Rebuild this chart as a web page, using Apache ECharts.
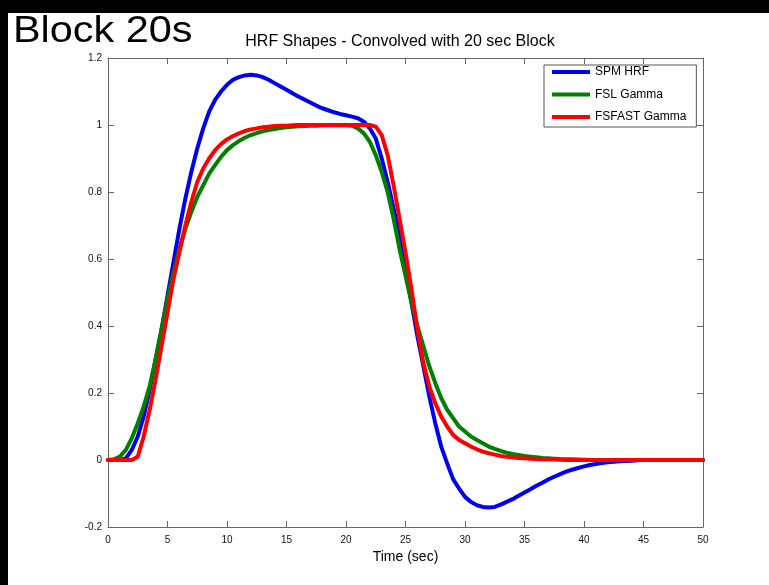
<!DOCTYPE html>
<html>
<head>
<meta charset="utf-8">
<script src="https://cdn.jsdelivr.net/npm/echarts@6/dist/echarts.min.js"></script>
<style>
html,body{margin:0;padding:0;background:#000;width:769px;height:585px;overflow:hidden;}
#chart{position:absolute;left:8px;top:13px;width:761px;height:572px;background:#fff;}
</style>
</head>
<body>
<div id="chart"></div>
<script>
const timeSec = [];
for (let i = 0; i <= 100; i++) timeSec.push(i / 2);

const spmHrf = [0,0,0,0.005,0.03,0.07,0.13,0.21,0.30,0.39,
0.49,0.59,0.69,0.78,0.86,0.93,0.99,1.04,1.075,1.10,
1.12,1.135,1.143,1.148,1.15,1.148,1.143,1.135,1.125,1.115,
1.105,1.095,1.085,1.076,1.067,1.058,1.05,1.044,1.038,1.033,
1.029,1.025,1.02,1.01,0.99,0.96,0.90,0.83,0.75,0.67,
0.57,0.47,0.37,0.28,0.19,0.11,0.04,-0.01,-0.057,-0.085,
-0.11,-0.125,-0.135,-0.14,-0.142,-0.14,-0.133,-0.125,-0.117,-0.107,
-0.097,-0.087,-0.077,-0.068,-0.058,-0.05,-0.042,-0.035,-0.029,-0.024,
-0.019,-0.015,-0.012,-0.009,-0.007,-0.005,-0.004,-0.003,-0.002,-0.001,
0,0,0,0,0,0,0,0,0,0,0];

const fslGamma = [0,0.002,0.01,0.03,0.065,0.11,0.16,0.22,0.30,0.39,
0.48,0.56,0.63,0.69,0.74,0.785,0.82,0.855,0.88,0.905,
0.925,0.94,0.952,0.962,0.97,0.976,0.981,0.985,0.988,0.991,
0.993,0.995,0.996,0.997,0.998,0.998,0.999,0.999,0.999,0.999,
0.999,0.998,0.99,0.975,0.95,0.91,0.86,0.80,0.72,0.63,
0.55,0.47,0.40,0.34,0.28,0.23,0.185,0.15,0.125,0.10,
0.085,0.07,0.06,0.05,0.04,0.033,0.027,0.022,0.018,0.015,
0.012,0.01,0.008,0.006,0.005,0.004,0.003,0.0025,0.002,0.0015,
0.001,0,0,0,0,0,0,0,0,0,
0,0,0,0,0,0,0,0,0,0,0];

const fsfastGamma = [0,0,0,0,0,0.01,0.07,0.15,0.24,0.34,
0.44,0.54,0.62,0.70,0.77,0.83,0.87,0.90,0.925,0.943,
0.957,0.967,0.975,0.982,0.987,0.99,0.993,0.995,0.997,0.998,
0.998,0.999,1,1,1,1,1,1,1,1,
1,1,1,1,1,0.995,0.97,0.91,0.82,0.72,
0.62,0.51,0.39,0.29,0.22,0.17,0.13,0.10,0.075,0.06,
0.05,0.04,0.032,0.025,0.02,0.016,0.012,0.01,0.008,0.006,
0.005,0.004,0.003,0.0025,0.002,0.0015,0.001,0,0,0,
0,0,0,0,0,0,0,0,0,0,
0,0,0,0,0,0,0,0,0,0,0];

const seriesNames = ['SPM HRF', 'FSL Gamma', 'FSFAST Gamma'];
const seriesColors = ['#0000f0', '#007f00', '#ff0000'];
const seriesValues = [spmHrf, fslGamma, fsfastGamma];

const mainTitle = 'Block 20s';
const chartTitle = 'HRF Shapes - Convolved with 20 sec Block';
const xAxisName = 'Time (sec)';

const FONT = 'Liberation Sans, Arial, Helvetica, sans-serif';
const axisColor = '#666';

const chart = echarts.init(document.getElementById('chart'));

function fmt(v) { return String(Math.round(v * 10) / 10); }

function axisBase() {
  return {
    type: 'value',
    axisLine: { show: true, onZero: false, lineStyle: { color: axisColor, width: 1 } },
    axisTick: { show: true, inside: true, length: 6, lineStyle: { color: axisColor } },
    splitLine: { show: false },
  };
}

chart.setOption({
  backgroundColor: '#fff',
  animation: false,
  grid: { left: 100, right: 66, top: 45, bottom: 58, containLabel: false },
  legend: {
    orient: 'vertical',
    left: 536, top: 52,
    data: seriesNames,
    icon: 'rect',
    itemWidth: 38, itemHeight: 4, itemGap: 10.5,
    padding: [1, 10, 4, 8],
    borderColor: '#555', borderWidth: 1,
    backgroundColor: '#fff',
    textStyle: { fontFamily: FONT, fontSize: 12, color: '#000' },
  },
  xAxis: [
    Object.assign(axisBase(), {
      min: 0, max: 50, interval: 5, position: 'bottom',
      axisLabel: { show: true, fontFamily: FONT, fontSize: 10, color: '#111', margin: 8 },
      name: xAxisName, nameLocation: 'middle', nameGap: 21,
      nameTextStyle: { fontFamily: FONT, fontSize: 14, color: '#000' },
    }),
    Object.assign(axisBase(), {
      min: 0, max: 50, interval: 5, position: 'top',
      axisLabel: { show: false },
    }),
  ],
  yAxis: [
    Object.assign(axisBase(), {
      min: -0.2, max: 1.2, interval: 0.2, position: 'left',
      axisLabel: { show: true, fontFamily: FONT, fontSize: 10, color: '#111', margin: 6, formatter: fmt },
    }),
    Object.assign(axisBase(), {
      min: -0.2, max: 1.2, interval: 0.2, position: 'right',
      axisLabel: { show: false },
    }),
  ],
  graphic: [
    {
      type: 'text', x: 5, y: 19.5, scaleX: 1.15, scaleY: 1,
      style: { text: mainTitle, x: 0, y: 0, font: '36px ' + FONT, fill: '#000', verticalAlign: 'middle', align: 'left' }
    },
    {
      type: 'text', x: 392, y: 28.5,
      style: { text: chartTitle, x: 0, y: 0, font: '16px ' + FONT, fill: '#000', verticalAlign: 'middle', align: 'center' }
    },
  ],
  series: seriesNames.map((name, k) => ({
    name: name,
    type: 'line',
    xAxisIndex: 0, yAxisIndex: 0,
    data: timeSec.map((t, i) => [t, seriesValues[k][i]]),
    showSymbol: false,
    symbol: 'none',
    smooth: false,
    lineStyle: { color: seriesColors[k], width: 4, join: 'round', cap: 'round' },
    itemStyle: { color: seriesColors[k] },
    z: 2 + k,
  })),
});
</script>
</body>
</html>
